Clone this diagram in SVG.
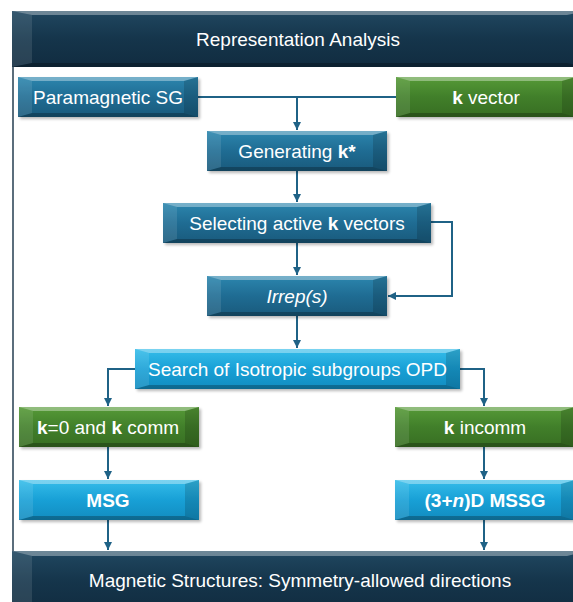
<svg xmlns="http://www.w3.org/2000/svg" xmlns:xlink="http://www.w3.org/1999/xlink" width="573" height="602" viewBox="0 0 573 602">
<style>
  text { font-family: "Liberation Sans", Arial, sans-serif; font-size: 19px; fill: #ffffff; text-anchor: middle; }
  .b { font-weight: bold; }
  .i { font-style: italic; }
  .dark { fill: url(#gDark); }
  .light { fill: url(#gLight); }
  .green { fill: url(#gGreen); }
  .navy { fill: url(#gNavy); }
  .shadow { fill: #000; opacity: 0.28; filter: url(#blur); }
  .bt { fill: #ffffff; opacity: 0.35; }
  .bb { fill: #000000; opacity: 0.25; }
  .bl { fill: #ffffff; opacity: 0.10; }
  .br { fill: #000000; opacity: 0.15; }
  .conn { fill: none; stroke: #1f6286; stroke-width: 2; }
</style>
<defs>
  <linearGradient id="gDark" x1="0" y1="0" x2="0" y2="1">
    <stop offset="0" stop-color="#2c86ae"/>
    <stop offset="0.5" stop-color="#1f6c93"/>
    <stop offset="1" stop-color="#195a7c"/>
  </linearGradient>
  <linearGradient id="gLight" x1="0" y1="0" x2="0" y2="1">
    <stop offset="0" stop-color="#35bdea"/>
    <stop offset="0.5" stop-color="#18a0d6"/>
    <stop offset="1" stop-color="#128cc0"/>
  </linearGradient>
  <linearGradient id="gGreen" x1="0" y1="0" x2="0" y2="1">
    <stop offset="0" stop-color="#569a37"/>
    <stop offset="0.5" stop-color="#417f2a"/>
    <stop offset="1" stop-color="#376e22"/>
  </linearGradient>
  <linearGradient id="gNavy" x1="0" y1="0" x2="0" y2="1">
    <stop offset="0" stop-color="#204760"/>
    <stop offset="0.5" stop-color="#15354b"/>
    <stop offset="1" stop-color="#112c40"/>
  </linearGradient>
  <filter id="blur" x="-10%" y="-20%" width="120%" height="140%">
    <feGaussianBlur stdDeviation="1.5"/>
  </filter>
  <marker id="arr" viewBox="0 0 10 10" refX="10" refY="5" markerWidth="4" markerHeight="4" orient="auto" markerUnits="strokeWidth">
    <path d="M0,0 L10,5 L0,10 z" fill="#1f6286"/>
  </marker>
  <!-- bevels -->
  <g id="bev180">
    <polygon class="bt" points="0,0 180,0 166,4 14,4"/>
    <polygon class="bb" points="0,40 180,40 166,36 14,36"/>
    <polygon class="bl" points="0,0 14,4 14,36 0,40"/>
    <polygon class="br" points="180,0 166,4 166,36 180,40"/>
  </g>
  <g id="bev268">
    <polygon class="bt" points="0,0 268,0 254,4 14,4"/>
    <polygon class="bb" points="0,40 268,40 254,36 14,36"/>
    <polygon class="bl" points="0,0 14,4 14,36 0,40"/>
    <polygon class="br" points="268,0 254,4 254,36 268,40"/>
  </g>
  <g id="bev325">
    <polygon class="bt" points="0,0 325,0 311,4 14,4"/>
    <polygon class="bb" points="0,40 325,40 311,36 14,36"/>
    <polygon class="bl" points="0,0 14,4 14,36 0,40"/>
    <polygon class="br" points="325,0 311,4 311,36 325,40"/>
  </g>
</defs>

<rect x="0" y="0" width="573" height="602" fill="#ffffff"/>

<!-- frame -->
<g id="frame">
  <line x1="13" y1="66" x2="13" y2="552" stroke="#243e50" stroke-width="1.5"/>
</g>

<!-- header -->
<g id="header">
  <rect x="12" y="11" width="575" height="56" class="navy"/>
  <polygon class="bt" points="12,11 587,11 567,15 32,15" opacity="0.15"/>
  <polygon class="bl" points="12,11 32,15 32,63 12,67"/>
  <polygon class="bb" points="12,67 587,67 567,63 32,63"/>
  <text x="298" y="46">Representation Analysis</text>
</g>

<!-- connectors -->
<g id="connectors">
  <path class="conn" d="M198,97 H297 V130" marker-end="url(#arr)"/>
  <path class="conn" d="M396,97 H297"/>
  <path class="conn" d="M297,171 V202" marker-end="url(#arr)"/>
  <path class="conn" d="M297,243 V275" marker-end="url(#arr)"/>
  <path class="conn" d="M431,222 H452 V296 H388" marker-end="url(#arr)"/>
  <path class="conn" d="M297,316 V348" marker-end="url(#arr)"/>
  <path class="conn" d="M135,369 H108 V406" marker-end="url(#arr)"/>
  <path class="conn" d="M460,369 H484 V406" marker-end="url(#arr)"/>
  <path class="conn" d="M108,447 V479" marker-end="url(#arr)"/>
  <path class="conn" d="M484,447 V479" marker-end="url(#arr)"/>
  <path class="conn" d="M108,520 V550" marker-end="url(#arr)"/>
  <path class="conn" d="M484,520 V550" marker-end="url(#arr)"/>
</g>

<!-- nodes -->
<g id="paramagnetic">
  <rect x="20" y="79" width="180" height="40" class="shadow"/>
  <rect x="18" y="77" width="180" height="40" class="dark"/>
  <use xlink:href="#bev180" href="#bev180" x="18" y="77"/>
  <text x="108" y="104">Paramagnetic SG</text>
</g>

<g id="kvector">
  <rect x="398" y="79" width="180" height="40" class="shadow"/>
  <rect x="396" y="77" width="180" height="40" class="green"/>
  <use xlink:href="#bev180" href="#bev180" x="396" y="77"/>
  <text x="486" y="104"><tspan class="b">k</tspan> vector</text>
</g>

<g id="generating">
  <rect x="209" y="133" width="180" height="40" class="shadow"/>
  <rect x="207" y="131" width="180" height="40" class="dark"/>
  <use xlink:href="#bev180" href="#bev180" x="207" y="131"/>
  <text x="297" y="158">Generating <tspan class="b">k*</tspan></text>
</g>

<g id="selecting">
  <rect x="165" y="205" width="268" height="40" class="shadow"/>
  <rect x="163" y="203" width="268" height="40" class="dark"/>
  <use xlink:href="#bev268" href="#bev268" x="163" y="203"/>
  <text x="297" y="230">Selecting active <tspan class="b">k</tspan> vectors</text>
</g>

<g id="irrep">
  <rect x="209" y="278" width="180" height="40" class="shadow"/>
  <rect x="207" y="276" width="180" height="40" class="dark"/>
  <use xlink:href="#bev180" href="#bev180" x="207" y="276"/>
  <text x="297" y="303" class="i">Irrep(s)</text>
</g>

<g id="search">
  <rect x="137" y="351" width="325" height="40" class="shadow"/>
  <rect x="135" y="349" width="325" height="40" class="light"/>
  <use xlink:href="#bev325" href="#bev325" x="135" y="349"/>
  <text x="297.5" y="376">Search of Isotropic subgroups OPD</text>
</g>

<g id="kcomm">
  <rect x="21" y="409" width="180" height="40" class="shadow"/>
  <rect x="19" y="407" width="180" height="40" class="green"/>
  <use xlink:href="#bev180" href="#bev180" x="19" y="407"/>
  <text x="108" y="434"><tspan class="b">k</tspan>=0 and <tspan class="b">k</tspan> comm</text>
</g>

<g id="kincomm">
  <rect x="397" y="409" width="180" height="40" class="shadow"/>
  <rect x="395" y="407" width="180" height="40" class="green"/>
  <use xlink:href="#bev180" href="#bev180" x="395" y="407"/>
  <text x="485" y="434"><tspan class="b">k</tspan> incomm</text>
</g>

<g id="msg">
  <rect x="21" y="482" width="180" height="40" class="shadow"/>
  <rect x="19" y="480" width="180" height="40" class="light"/>
  <use xlink:href="#bev180" href="#bev180" x="19" y="480"/>
  <text x="108" y="507" class="b">MSG</text>
</g>

<g id="mssg">
  <rect x="397" y="482" width="180" height="40" class="shadow"/>
  <rect x="395" y="480" width="180" height="40" class="light"/>
  <use xlink:href="#bev180" href="#bev180" x="395" y="480"/>
  <text x="485" y="507" class="b">(3+<tspan class="i">n</tspan>)D MSSG</text>
</g>

<!-- footer -->
<g id="footer">
  <rect x="12" y="551" width="575" height="60" class="navy"/>
  <polygon class="bt" points="12,551 587,551 567,556 32,556" opacity="0.15"/>
  <polygon class="bl" points="12,551 32,556 32,602 12,602"/>
  <text x="300" y="587">Magnetic Structures: Symmetry-allowed directions</text>
</g>
</svg>
